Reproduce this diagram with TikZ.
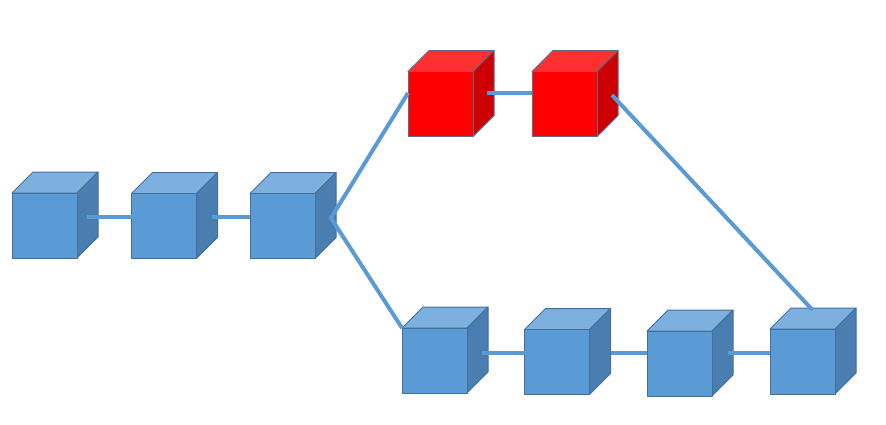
\documentclass[tikz,border=0pt]{standalone}
\definecolor{bfront}{HTML}{5B9BD5}
\definecolor{btop}{HTML}{7EB0DF}
\definecolor{bside}{HTML}{4A7EB1}
\definecolor{bedge}{HTML}{41719C}
\definecolor{rfront}{HTML}{FF0000}
\definecolor{rtop}{HTML}{FF3030}
\definecolor{rside}{HTML}{CC0000}
\definecolor{redge}{HTML}{5F6A8C}
\definecolor{linec}{HTML}{5B9BD5}
\begin{document}
\begin{tikzpicture}[x=1pt,y=-1pt,
  cube/.style n args={4}{rectangle, minimum width=65pt, minimum height=65pt,
    inner sep=0pt, outer sep=0pt, line width=1pt, line join=round, fill=#1, draw=#4,
    append after command={\pgfextra{
      \filldraw[fill=#2, draw=#4, line width=1pt, line join=round]
        (\tikzlastnode.north west) -- ([shift={(21pt,21pt)}]\tikzlastnode.north west)
        -- ([shift={(21pt,21pt)}]\tikzlastnode.north east) -- (\tikzlastnode.north east) -- cycle;
      \filldraw[fill=#3, draw=#4, line width=1pt, line join=round]
        (\tikzlastnode.north east) -- ([shift={(21pt,21pt)}]\tikzlastnode.north east)
        -- ([shift={(21pt,21pt)}]\tikzlastnode.south east) -- (\tikzlastnode.south east) -- cycle;
    }}},
  bluecube/.style={cube={bfront}{btop}{bside}{bedge}},
  redcube/.style={cube={rfront}{rtop}{rside}{redge}},
  conn/.style={draw=linec, line width=4pt}]
\useasboundingbox (0,0) rectangle (886,424);
% cubes
\node[bluecube] (L1) at (44.5,225.5) {};
\node[bluecube] (L2) at (164,226) {};
\node[bluecube] (L3) at (282.5,226) {};
\node[redcube] (R1) at (440.5,104) {};
\node[redcube] (R2) at (564.5,104) {};
\node[bluecube] (B1) at (434.5,360.5) {};
\node[bluecube] (B2) at (557,362) {};
\node[bluecube] (B3) at (679.5,363.5) {};
\node[bluecube] (B4) at (802.5,361.5) {};
% connector start points
\coordinate (s12) at ([shift={(10pt,9pt)}]L1.east);
\coordinate (s23) at ([shift={(15.5pt,9pt)}]L2.east);
\coordinate (j3) at ([shift={(16pt,8pt)}]L3.east);
\coordinate (eR1) at ([shift={(0pt,11pt)}]R1.west);
\coordinate (sR) at ([shift={(14pt,11pt)}]R1.east);
\coordinate (sR2) at ([shift={(15pt,9pt)}]R2.east);
\coordinate (eB4) at ([shift={(10pt,19pt)}]B4.north);
\coordinate (sB12) at ([shift={(15pt,7.5pt)}]B1.east);
\coordinate (sB23) at ([shift={(21pt,9pt)}]B2.east);
\coordinate (sB34) at ([shift={(16pt,10.5pt)}]B3.east);
% connectors
\draw[conn] (s12) -- (s12 -| L2.west);
\draw[conn] (s23) -- (s23 -| L3.west);
\draw[conn] (eR1) -- (j3) -- (B1.north west);
\draw[conn] (sR) -- (sR -| R2.west);
\draw[conn] (sB12) -- (sB12 -| B2.west);
\draw[conn] (sB23) -- (sB23 -| B3.west);
\draw[conn] (sB34) -- (sB34 -| B4.west);
\draw[conn] (sR2) -- (eB4);
\end{tikzpicture}
\end{document}
